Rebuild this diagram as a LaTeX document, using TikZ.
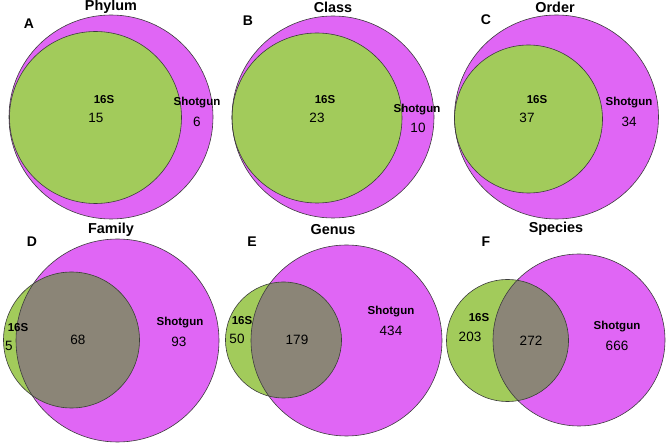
\documentclass[tikz,border=0pt]{standalone}
\usepackage{fontspec}
\setmainfont{Liberation Sans}
\usetikzlibrary{calc}

\definecolor{shotcol}{HTML}{E066F5}
\definecolor{sixcol}{HTML}{A2CB5B}
\definecolor{bothcol}{HTML}{8B8577}
\definecolor{edgecol}{HTML}{3C3C3C}

\tikzset{
  title/.style={font=\bfseries\fontsize{14.4}{16}\selectfont,inner sep=0pt},
  panel/.style={font=\bfseries\fontsize{14}{16}\selectfont,inner sep=0pt},
  setlbl/.style={font=\bfseries\fontsize{11.5}{13}\selectfont,inner sep=0pt},
  count/.style={font=\fontsize{13.5}{15}\selectfont,inner sep=0pt},
  rim/.style={draw=edgecol,line width=0.6pt}
}

\begin{document}
\begin{tikzpicture}[x=1pt,y=1pt]
\useasboundingbox (0,0) rectangle (669,447);
% ---------- (A) ----------
\begin{scope}[shift={(111,330)}]
  \fill[shotcol] (0,0) circle (102);
  \fill[sixcol] (-15.5,-0.5) circle (86);
  \draw[rim] (0,0) circle (102);
  \draw[rim] (-15.5,-0.5) circle (86);
  \node[title] (titA) at (0,110) {Phylum};
  \node[panel] (letA) at (-82,93) {A};
  \node[setlbl] (sA) at (-7,17) {16S};
  \node[count] (nsA) at (-15,-1) {15};
  \node[setlbl] (gA) at (86,14) {Shotgun};
  \node[count] (ngA) at (86,-5) {6};
\end{scope}
% ---------- (B) ----------
\begin{scope}[shift={(333,330)}]
  \fill[shotcol] (0,0) circle (101);
  \fill[sixcol] (-16,-1) circle (85);
  \draw[rim] (0,0) circle (101);
  \draw[rim] (-16,-1) circle (85);
  \node[title] (titB) at (0,110) {Class};
  \node[panel] (letB) at (-85,96) {B};
  \node[setlbl] (sB) at (-8,17) {16S};
  \node[count] (nsB) at (-16,-1) {23};
  \node[setlbl] (gB) at (84,7) {Shotgun};
  \node[count] (ngB) at (85,-11) {10};
\end{scope}
% ---------- (C) ----------
\begin{scope}[shift={(556.5,330)}]
  \fill[shotcol] (0,0) circle (102);
  \fill[sixcol] (-28,-2) circle (74);
  \draw[rim] (0,0) circle (102);
  \draw[rim] (-28,-2) circle (74);
  \node[title] (titC) at (-1.5,110) {Order};
  \node[panel] (letC) at (-70.5,97) {C};
  \node[setlbl] (sC) at (-19.5,17) {16S};
  \node[count] (nsC) at (-29.5,-1) {37};
  \node[setlbl] (gC) at (72.5,14) {Shotgun};
  \node[count] (ngC) at (72.5,-5) {34};
\end{scope}
% ---------- (D) ----------
\begin{scope}[shift={(117.5,106.5)}]
  \fill[shotcol] (0,0) circle (101.5);
  \fill[sixcol] (-46,0.5) circle (68);
  \begin{scope}
    \clip (-46,0.5) circle (68);
    \fill[bothcol] (0,0) circle (101.5);
  \end{scope}
  \draw[rim] (0,0) circle (101.5);
  \draw[rim] (-46,0.5) circle (68);
  \node[title] (titD) at (-6.5,110.5) {Family};
  \node[panel] (letD) at (-85.5,98.5) {D};
  \node[setlbl] (sD) at (-99.5,12.5) {16S};
  \node[count] (nsD) at (-108.5,-5.5) {5};
  \node[count] (nbD) at (-39.5,0.5) {68};
  \node[setlbl] (gD) at (62.5,17.5) {Shotgun};
  \node[count] (ngD) at (61.5,-1.5) {93};
\end{scope}
% ---------- (E) ----------
\begin{scope}[shift={(346.5,106.5)}]
  \fill[shotcol] (0,0) circle (95.5);
  \fill[sixcol] (-63,0.5) circle (58);
  \begin{scope}
    \clip (-63,0.5) circle (58);
    \fill[bothcol] (0,0) circle (95.5);
  \end{scope}
  \draw[rim] (0,0) circle (95.5);
  \draw[rim] (-63,0.5) circle (58);
  \node[title] (titE) at (-13.5,110.5) {Genus};
  \node[panel] (letE) at (-94.5,98.5) {E};
  \node[setlbl] (sE) at (-104.5,19.5) {16S};
  \node[count] (nsE) at (-109.5,1.5) {50};
  \node[count] (nbE) at (-49.5,0.5) {179};
  \node[setlbl] (gE) at (44.5,28.5) {Shotgun};
  \node[count] (ngE) at (44.5,9.5) {434};
\end{scope}
% ---------- (F) ----------
\begin{scope}[shift={(579,107)}]
  \fill[shotcol] (0,0) circle (86);
  \fill[sixcol] (-71.5,-0.5) circle (61);
  \begin{scope}
    \clip (-71.5,-0.5) circle (61);
    \fill[bothcol] (0,0) circle (86);
  \end{scope}
  \draw[rim] (0,0) circle (86);
  \draw[rim] (-71.5,-0.5) circle (61);
  \node[title] (titF) at (-23,111) {Species};
  \node[panel] (letF) at (-93,98) {F};
  \node[setlbl] (sF) at (-100,22) {16S};
  \node[count] (nsF) at (-109,3) {203};
  \node[count] (nbF) at (-48,-1) {272};
  \node[setlbl] (gF) at (38,13) {Shotgun};
  \node[count] (ngF) at (38,-6) {666};
\end{scope}
\end{tikzpicture}
\end{document}
